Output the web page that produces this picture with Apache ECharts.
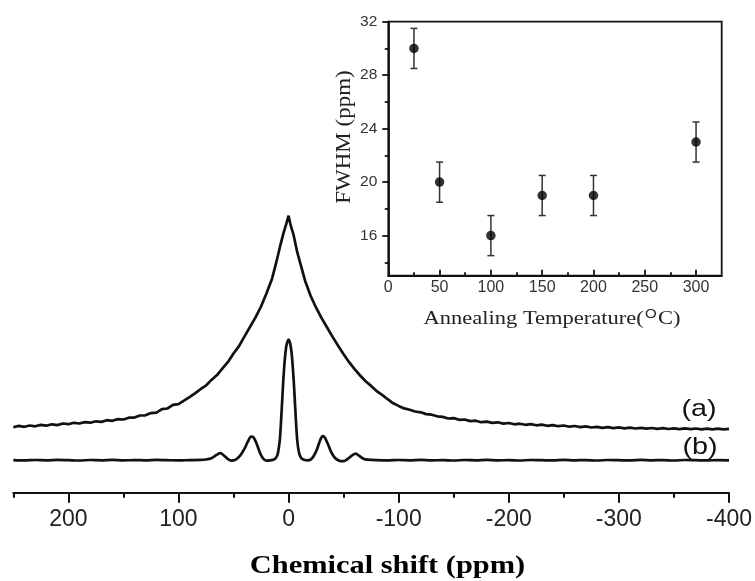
<!DOCTYPE html>
<html>
<head>
<meta charset="utf-8">
<script src="https://cdn.jsdelivr.net/npm/echarts@6/dist/echarts.min.js"></script>
<style>html,body{margin:0;padding:0;background:#fff}#c{width:755px;height:581px}</style>
</head>
<body>
<div id="c"></div>
<script>
// ---- Main spectra: chemical shift (ppm) and intensity (arb. units) ----
const shiftA = [250,245,240,235,230,225,220,215,210,205,200,195,190,185,180,175,170,165,160,155,150,145,140,135,130,125,120,115,110,105,100,
  95,90,85,80,75,70,65,60,55,50,45,40,35,30,25,20,15,11,8,4.5,2,0,-2,-4.5,-8,-11,-15,-20,-25,-30,-35,-40,-45,-50,-55,-60,-65,-70,-75,-80,-85,-90,-95,-100,
  -105,-110,-115,-120,-125,-130,-135,-140,-145,-150,-155,-160,-165,-170,-175,-180,-185,-190,-195,-200,-205,-210,-215,-220,-225,-230,-235,-240,-245,-250,
  -255,-260,-265,-270,-275,-280,-285,-290,-295,-300,-305,-310,-315,-320,-325,-330,-335,-340,-345,-350,-355,-360,-365,-370,-375,-380,-385,-390,-395,-400];
const intensityA = [65.5,66.8,65.9,67.2,66.4,67.8,67.0,68.4,67.6,69.2,68.5,69.9,69.2,70.6,70.0,71.4,70.8,72.5,71.9,73.6,73.2,75.0,75.1,77.2,77.4,79.6,80.0,83.5,84.2,87.8,88.6,
  92.0,95.6,99.3,103.5,107.2,112.8,117.6,124.3,130.8,139.2,146.6,156.3,165.8,175.4,186.2,199.5,214,231,245,260,269,277,267,258,240,228,212,197,185,174.6,165.2,155.8,146.9,138.4,130.5,123.6,117.2,111.5,106.8,101.6,97.8,93.5,89.4,86.8,
  84.3,82.9,81.2,80.4,78.6,78.0,76.4,75.8,74.2,74.6,72.9,73.2,71.6,72.0,70.5,71.1,69.8,70.4,69.1,69.7,68.4,69.0,67.9,68.6,67.4,68.1,66.9,67.6,66.5,67.2,
  66.0,66.7,65.6,66.3,65.2,65.9,64.9,65.6,64.6,65.3,64.4,65.1,64.2,64.9,64.0,64.7,63.9,64.6,63.7,64.4,63.6,64.3,63.5,64.2,63.4,64.1,63.3,64.0,63.4,63.8];

const shiftB = [250,240,230,220,210,200,190,180,170,160,150,140,130,120,110,100,90,80,75,70,65,62,59,55,52,48,44,40,37,34,32,29,26,23,20,17,14,12,10,9,8,7,6,5,4,3,2,1,0,
  -1,-2,-3,-4,-5,-6,-7,-8,-9,-10,-12,-14,-17,-20,-23,-26,-28.5,-31,-33,-36,-39,-42,-46,-50,-54,-58,-61,-64,-68,-72,-80,-90,-100,-110,-120,-130,-140,-150,
  -160,-170,-180,-190,-200,-210,-220,-230,-240,-250,-260,-270,-280,-290,-300,-310,-320,-330,-340,-350,-360,-370,-380,-390,-400];
const intensityB = [32.6,32.3,32.7,32.4,32.8,32.5,32.2,32.7,32.4,32.8,32.3,32.6,32.4,32.8,32.5,32.3,32.6,32.8,33.2,34.5,38,39.5,37.5,33.5,32,33,37,44,51,56,55.5,49,40,34,32,32.3,33,34,38,44,52,68,88,108,125,138,147,151,153,
  151,146,137,123,106,86,66,51,43,38,34,33,32.3,33,37,44,52,56.5,55,48,40,35,32,31.5,34,37.5,39,37,34,33,32.5,32.3,32.7,32.4,32.8,32.3,32.6,32.2,
  32.7,32.4,32.8,32.3,32.6,32.2,32.7,32.5,32.3,32.8,32.4,32.6,32.2,32.7,32.5,32.3,32.8,32.4,32.6,32.2,32.7,32.5,32.3,32.6,32.4];

const mainTickLabels = [200,100,0,-100,-200,-300,-400];
const mainMinorTicks = [250,150,50,-50,-150,-250,-350];

// ---- Inset: FWHM vs annealing temperature ----
const temps = [25,50,100,150,200,300];
const fwhm = [30,20,16,19,19,23];
const fwhmErr = [1.5,1.5,1.5,1.5,1.5,1.5];
const insetXTicks = [0,50,100,150,200,250,300];
const insetXMinor = [25,75,125,175,225,275];
const insetYTicks = [16,20,24,28,32];
const insetYMinor = [14,18,22,26,30];

const pairsA = shiftA.map((x,i)=>[x,intensityA[i]]);
const pairsB = shiftB.map((x,i)=>[x,intensityB[i]]);
const pts = temps.map((t,i)=>[t,fwhm[i]]);
const errs = temps.map((t,i)=>[t,fwhm[i]-fwhmErr[i],fwhm[i]+fwhmErr[i]]);

const ink = '#111';
const sans = "'Liberation Sans', Arial, sans-serif";
const serif = "'Liberation Serif', 'Times New Roman', serif";

const chart = echarts.init(document.getElementById('c'), null, {renderer:'canvas'});
chart.setOption({
  animation:false,
  backgroundColor:'#fff',
  grid:[
    {left:13.3, right:25.7, top:192.7, bottom:88.3, containLabel:false},
    {left:388.3, right:33.3, top:21.7, bottom:305.3, containLabel:false, show:true, borderColor:ink, borderWidth:1.8, backgroundColor:'transparent'}
  ],
  xAxis:[
    {gridIndex:0, type:'value', inverse:true, min:-400, max:250, position:'bottom',
     axisLine:{show:true, lineStyle:{color:ink, width:2}},
     axisTick:{show:true, customValues:mainTickLabels, length:10, lineStyle:{color:ink, width:2}},
     axisLabel:{show:true, customValues:mainTickLabels, fontSize:23, color:'#222', fontFamily:sans, margin:15},
     splitLine:{show:false}},
    {gridIndex:0, type:'value', inverse:true, min:-400, max:250, position:'bottom', offset:0,
     axisLine:{show:false},
     axisTick:{show:true, customValues:mainMinorTicks, length:5, lineStyle:{color:ink, width:2}},
     axisLabel:{show:false}, splitLine:{show:false}},
    {gridIndex:1, type:'value', min:0, max:325, position:'bottom',
     axisLine:{show:true, lineStyle:{color:ink, width:1.8}},
     axisTick:{show:true, inside:true, customValues:insetXTicks, length:6, lineStyle:{color:ink, width:1.8}},
     axisLabel:{show:true, customValues:insetXTicks, fontSize:16, color:'#333', fontFamily:sans, margin:4},
     splitLine:{show:false}},
    {gridIndex:1, type:'value', min:0, max:325, position:'bottom', offset:0,
     axisLine:{show:false},
     axisTick:{show:true, inside:true, customValues:insetXMinor, length:3.5, lineStyle:{color:ink, width:1.8}},
     axisLabel:{show:false}, splitLine:{show:false}}
  ],
  yAxis:[
    {gridIndex:0, type:'value', min:0, max:300, show:false, splitLine:{show:false}},
    {gridIndex:1, type:'value', min:13, max:32, position:'left',
     axisLine:{show:true, lineStyle:{color:ink, width:1.8}},
     axisTick:{show:true, customValues:insetYTicks, length:6, lineStyle:{color:ink, width:1.8}},
     axisLabel:{show:true, customValues:insetYTicks, fontSize:15.5, color:'#333', fontFamily:sans, margin:11},
     splitLine:{show:false}},
    {gridIndex:1, type:'value', min:13, max:32, position:'left', offset:0,
     axisLine:{show:false},
     axisTick:{show:true, customValues:insetYMinor, length:3.5, lineStyle:{color:ink, width:1.8}},
     axisLabel:{show:false}, splitLine:{show:false}}
  ],
  series:[
    {type:'line', xAxisIndex:0, yAxisIndex:0, data:pairsA, showSymbol:false, smooth:false,
     lineStyle:{color:ink, width:2.7}, silent:true},
    {type:'line', xAxisIndex:0, yAxisIndex:0, data:pairsB, showSymbol:false, smooth:0.3,
     lineStyle:{color:ink, width:2.7}, silent:true},
    {type:'custom', xAxisIndex:2, yAxisIndex:1, data:errs,
     renderItem:function(params, api){
       const x = api.value(0), lo = api.value(1), hi = api.value(2);
       const pLo = api.coord([x, lo]), pHi = api.coord([x, hi]);
       const cap = 3.5;
       const st = {stroke:'#333', lineWidth:1.5};
       return {type:'group', children:[
         {type:'line', shape:{x1:pLo[0], y1:pLo[1], x2:pHi[0], y2:pHi[1]}, style:st},
         {type:'line', shape:{x1:pLo[0]-cap, y1:pLo[1], x2:pLo[0]+cap, y2:pLo[1]}, style:st},
         {type:'line', shape:{x1:pHi[0]-cap, y1:pHi[1], x2:pHi[0]+cap, y2:pHi[1]}, style:st}
       ]};
     }, silent:true, z:3},
    {type:'scatter', xAxisIndex:2, yAxisIndex:1, data:pts, symbol:'circle', symbolSize:9.5,
     itemStyle:{color:'#000'}, silent:true, z:4}
  ],
  graphic:[
    {type:'text', x:387.5, y:566, scaleX:1.17, style:{text:'Chemical shift (ppm)', font:'bold 26px '+serif, fill:'#000', textAlign:'center', textVerticalAlign:'middle'}},
    {type:'text', x:699, y:409, scaleX:1.2, style:{text:'(a)', font:'24px '+sans, fill:'#111', textAlign:'center', textVerticalAlign:'middle'}},
    {type:'text', x:700, y:447.5, scaleX:1.2, style:{text:'(b)', font:'24px '+sans, fill:'#111', textAlign:'center', textVerticalAlign:'middle'}},
    {type:'text', x:344.5, y:137, rotation:Math.PI/2, scaleX:1.15, style:{text:'FWHM (ppm)', font:'20px '+serif, fill:'#222', textAlign:'center', textVerticalAlign:'middle'}},
    {type:'text', x:552, y:319, scaleX:1.25, style:{text:'{n|Annealing Temperature(}{s|O}{n|C)}', fill:'#222', textAlign:'center', textVerticalAlign:'middle',
      rich:{n:{fontSize:18, fontFamily:serif, fill:'#222'}, s:{fontSize:12, fontFamily:sans, fill:'#222', verticalAlign:'top', padding:[0,1,8,1]}}}}
  ]
});
</script>
</body>
</html>
